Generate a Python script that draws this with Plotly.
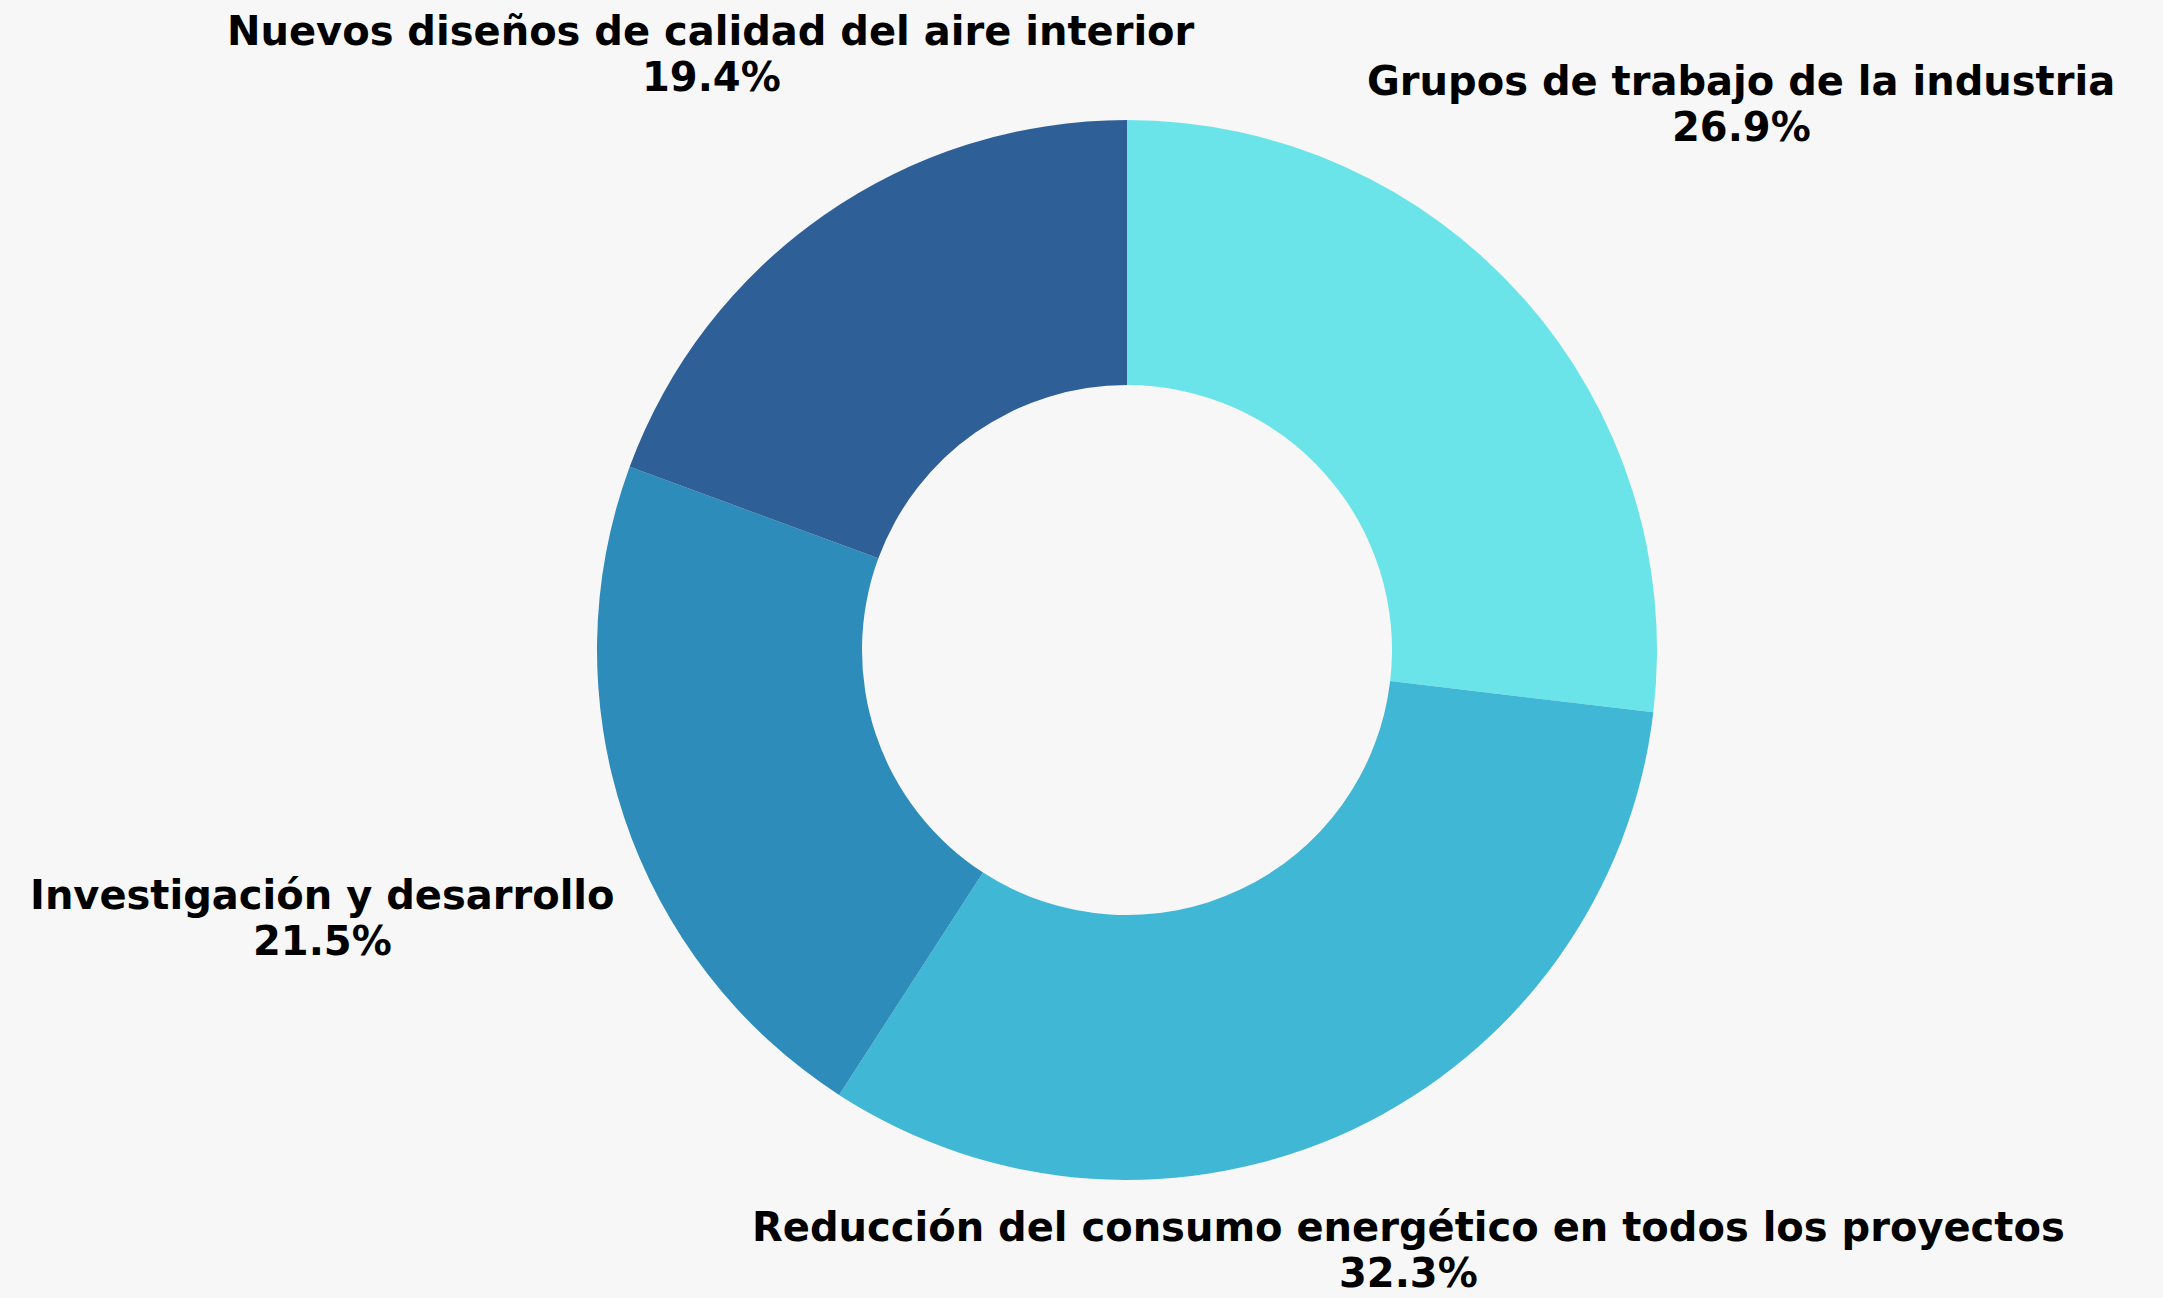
import math
import plotly.graph_objects as go

labels = [
    "Grupos de trabajo de la industria",
    "Reducción del consumo energético en todos los proyectos",
    "Investigación y desarrollo",
    "Nuevos diseños de calidad del aire interior",
]
values = [26.9, 32.3, 21.5, 19.4]
colors = ["#6ae4e9", "#41b7d6", "#2d8cba", "#2e5f96"]

# layout (pixels in the 2163x1298 canvas)
W, H = 2163, 1298
CX, CY, R = 1127, 650, 530
label_dist = [1.55, 1.25, 1.60, 1.372]  # radial distance of each label, in radii
line_gap = 23

fig = go.Figure(
    go.Pie(
        labels=labels,
        values=values,
        hole=0.5,
        sort=False,
        direction="clockwise",
        rotation=0,
        marker=dict(colors=colors, line=dict(width=0)),
        textinfo="none",
        hoverinfo="label+percent",
        showlegend=False,
        domain=dict(x=[(CX - R) / W, (CX + R) / W], y=[1 - (CY + R) / H, 1 - (CY - R) / H]),
    )
)

total = sum(values)
cum = 0.0
font = dict(family="DejaVu Sans", size=40, color="#000000", weight="bold")
for lab, v, f in zip(labels, values, label_dist):
    mid = (cum + v / 2) / total * 2 * math.pi
    cum += v
    px = CX + f * R * math.sin(mid)
    py = CY - f * R * math.cos(mid)
    xp, yp = px / W, 1 - py / H
    fig.add_annotation(x=xp, y=yp, xref="paper", yref="paper", text=lab,
                       showarrow=False, xanchor="center", yanchor="middle",
                       yshift=line_gap, font=font)
    fig.add_annotation(x=xp, y=yp, xref="paper", yref="paper",
                       text=f"{v / total * 100:.1f}%",
                       showarrow=False, xanchor="center", yanchor="middle",
                       yshift=-line_gap, font=font)

fig.update_layout(
    width=W,
    height=H,
    margin=dict(l=0, r=0, t=0, b=0),
    paper_bgcolor="#f7f7f7",
    plot_bgcolor="#f7f7f7",
)
fig.write_html(
    "out.html",
    config={"displayModeBar": False},
    post_script="document.body.style.margin='0';document.body.style.overflow='hidden';",
)
